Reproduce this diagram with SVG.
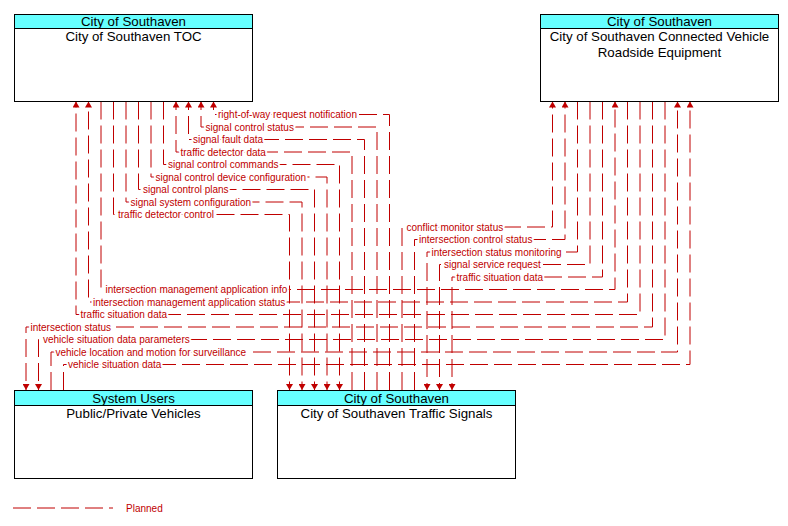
<svg xmlns="http://www.w3.org/2000/svg" width="788" height="526" viewBox="0 0 788 526">
<style>
.box{fill:#fff;stroke:#000;stroke-width:1}
.hdr{fill:#66ffff;stroke:#000;stroke-width:1}
.ht{font-family:"Liberation Sans",Arial,sans-serif;font-size:13.3px;fill:#000;text-anchor:middle}
.fl{fill:none;stroke:#c00000;stroke-width:1;stroke-dasharray:18 6}
.lb{font-family:"Liberation Sans",Arial,sans-serif;font-size:10px;fill:#c00000;stroke:#fff;stroke-width:4;paint-order:stroke;stroke-linejoin:round}
</style>
<defs>
<marker id="arr" viewBox="0 0 6 7" refX="6" refY="3.5" markerWidth="6" markerHeight="7" markerUnits="userSpaceOnUse" orient="auto">
<path d="M0,0 L6,3.5 L0,7 z" fill="#c00000"/>
</marker>
</defs>
<rect width="788" height="526" fill="#fff"/>
<g id="connectors">
<path class="fl" marker-end="url(#arr)" d="M389.5,390 V114.5 H213.5 V101.5"/>
<path class="fl" marker-end="url(#arr)" d="M377,390 V127 H201 V101.5"/>
<path class="fl" marker-end="url(#arr)" d="M364.5,390 V139.5 H188.5 V101.5"/>
<path class="fl" marker-end="url(#arr)" d="M352,390 V152 H176 V101.5"/>
<path class="fl" marker-end="url(#arr)" d="M163.5,101.5 V164.5 H339.5 V390"/>
<path class="fl" marker-end="url(#arr)" d="M151,101.5 V177 H327 V390"/>
<path class="fl" marker-end="url(#arr)" d="M138.5,101.5 V189.5 H314.5 V390"/>
<path class="fl" marker-end="url(#arr)" d="M126,101.5 V202 H302 V390"/>
<path class="fl" marker-end="url(#arr)" d="M113.5,101.5 V214.5 H289.5 V390"/>
<path class="fl" marker-end="url(#arr)" d="M402,390 V227 H552.5 V101.5"/>
<path class="fl" marker-end="url(#arr)" d="M414.5,390 V239.5 H565 V101.5"/>
<path class="fl" marker-end="url(#arr)" d="M577.5,101.5 V252 H427 V390"/>
<path class="fl" marker-end="url(#arr)" d="M590,101.5 V264.5 H439.5 V390"/>
<path class="fl" marker-end="url(#arr)" d="M602.5,101.5 V277 H452 V390"/>
<path class="fl" marker-end="url(#arr)" d="M101,101.5 V289.5 H615 V101.5"/>
<path class="fl" marker-end="url(#arr)" d="M627.5,101.5 V302 H88.5 V101.5"/>
<path class="fl" marker-end="url(#arr)" d="M640,101.5 V314.5 H76 V101.5"/>
<path class="fl" marker-end="url(#arr)" d="M652.5,101.5 V327 H26 V390"/>
<path class="fl" marker-end="url(#arr)" d="M665,101.5 V339.5 H38.5 V390"/>
<path class="fl" marker-end="url(#arr)" d="M51,390 V352 H677.5 V101.5"/>
<path class="fl" marker-end="url(#arr)" d="M63.5,390 V364.5 H690 V101.5"/>
<text class="lb" x="218" y="118">right-of-way request notification</text>
<text class="lb" x="205.5" y="130.5">signal control status</text>
<text class="lb" x="193" y="143">signal fault data</text>
<text class="lb" x="180.5" y="155.5">traffic detector data</text>
<text class="lb" x="168" y="168">signal control commands</text>
<text class="lb" x="155.5" y="180.5">signal control device configuration</text>
<text class="lb" x="143" y="193">signal control plans</text>
<text class="lb" x="130.5" y="205.5">signal system configuration</text>
<text class="lb" x="118" y="218">traffic detector control</text>
<text class="lb" x="406.5" y="230.5">conflict monitor status</text>
<text class="lb" x="419" y="243">intersection control status</text>
<text class="lb" x="431.5" y="255.5">intersection status monitoring</text>
<text class="lb" x="444" y="268">signal service request</text>
<text class="lb" x="456.5" y="280.5">traffic situation data</text>
<text class="lb" x="105.5" y="293">intersection management application info</text>
<text class="lb" x="93" y="305.5">intersection management application status</text>
<text class="lb" x="80.5" y="318">traffic situation data</text>
<text class="lb" x="30.5" y="330.5">intersection status</text>
<text class="lb" x="43" y="343">vehicle situation data parameters</text>
<text class="lb" x="55.5" y="355.5">vehicle location and motion for surveillance</text>
<text class="lb" x="68" y="368">vehicle situation data</text>
</g>
<g id="toc">
<rect class="box" x="14.5" y="14.5" width="238" height="87"/>
<rect class="hdr" x="14.5" y="14.5" width="238" height="14"/>
<text class="ht" x="133.5" y="26">City of Southaven</text>
<text class="ht" x="133.5" y="41">City of Southaven TOC</text>
</g>
<g id="rse">
<rect class="box" x="540.5" y="14.5" width="238" height="87"/>
<rect class="hdr" x="540.5" y="14.5" width="238" height="14"/>
<text class="ht" x="659.5" y="26">City of Southaven</text>
<text class="ht" x="659.5" y="41">City of Southaven Connected Vehicle</text>
<text class="ht" x="659.5" y="56.5">Roadside Equipment</text>
</g>
<g id="vehicles">
<rect class="box" x="14.5" y="390.5" width="238" height="88"/>
<rect class="hdr" x="14.5" y="390.5" width="238" height="15"/>
<text class="ht" x="133.5" y="402.5">System Users</text>
<text class="ht" x="133.5" y="417.5">Public/Private Vehicles</text>
</g>
<g id="signals">
<rect class="box" x="277.5" y="390.5" width="238" height="88"/>
<rect class="hdr" x="277.5" y="390.5" width="238" height="15"/>
<text class="ht" x="396.5" y="402.5">City of Southaven</text>
<text class="ht" x="396.5" y="417.5">City of Southaven Traffic Signals</text>
</g>
<g id="legend">
<path class="fl" d="M13,508 H113"/>
<text x="126" y="511.5" style="font-family:'Liberation Sans',Arial,sans-serif;font-size:10px;fill:#c00000">Planned</text>
</g>
</svg>
